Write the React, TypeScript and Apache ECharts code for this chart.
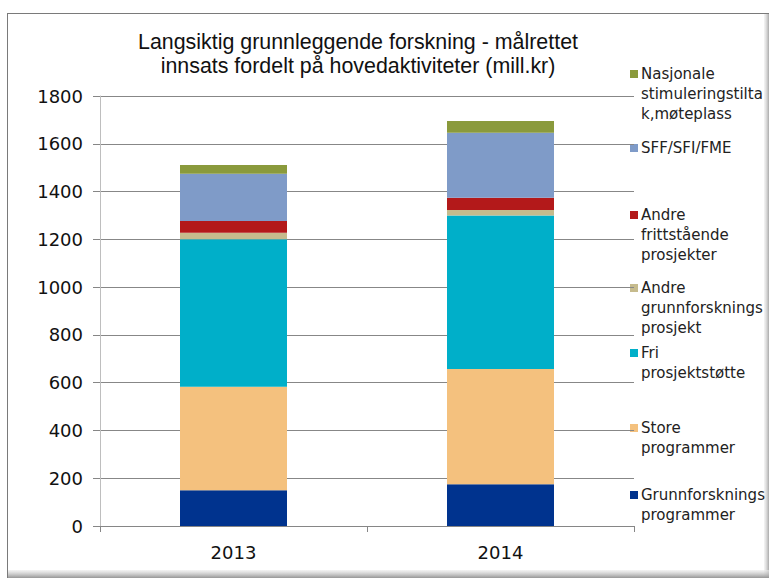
import React, { useEffect, useRef } from "react";
import * as echarts from "echarts";

const categories = ["2013", "2014"];
const seriesNames = [
  "Grunnforsknings programmer",
  "Store programmer",
  "Fri prosjektstøtte",
  "Andre grunnforsknings prosjekt",
  "Andre frittstående prosjekter",
  "SFF/SFI/FME",
  "Nasjonale stimuleringstiltak,møteplass",
];
const legendLabels = [
  "Grunnforsknings\nprogrammer",
  "Store\nprogrammer",
  "Fri\nprosjektstøtte",
  "Andre\ngrunnforsknings\nprosjekt",
  "Andre\nfrittstående\nprosjekter",
  "SFF/SFI/FME",
  "Nasjonale\nstimuleringstilta\nk,møteplass",
];
const grunnforsknings = [150, 175];
const store = [433, 482];
const fri = [617, 643];
const andreGrunn = [28, 23];
const andreFritt = [49, 51];
const sff = [198, 272];
const nasjonale = [36, 49];
const seriesValues = [grunnforsknings, store, fri, andreGrunn, andreFritt, sff, nasjonale];
const colors = ["#00338E", "#F4C17E", "#00AFC9", "#C6BB8D", "#B3191A", "#7F9BC8", "#8A9A3C"];
const yTicks = { min: 0, max: 1800, interval: 200 };
const titleLines = [
  "Langsiktig grunnleggende forskning - målrettet",
  "innsats fordelt på hovedaktiviteter (mill.kr)",
];

// legend marker vertical centers (layout)
const legendY = [495, 428, 353, 288, 215, 148, 74];

export default function App() {
  const ref = useRef<HTMLDivElement>(null);
  useEffect(() => {
    if (!ref.current) return;
    const chart = echarts.init(ref.current, null, { renderer: "svg" });
    const font = "DejaVu Sans, Verdana, sans-serif";
    const legendGraphics: any[] = [];
    seriesNames.forEach((name, i) => {
      legendGraphics.push({
        type: "rect",
        left: 630,
        top: legendY[i] - 4,
        shape: { width: 8, height: 8 },
        style: { fill: colors[i] },
      });
      legendGraphics.push({
        type: "text",
        left: 641,
        top: legendY[i] - 10,
        style: {
          text: legendLabels[i],
          font: `15px ${font}`,
          fill: "#222",
          lineHeight: 20,
        },
      });
    });
    chart.setOption({
      animation: false,
      backgroundColor: "#fff",
      title: titleLines.map((t, i) => ({
        text: t,
        left: 358,
        top: 30 + i * 24.5,
        padding: 0,
        textAlign: "center",
        textStyle: {
          fontFamily: "Liberation Sans, Arial, sans-serif",
          fontSize: 21.4,
          fontWeight: "normal",
          color: "#111",
          lineHeight: 23,
        },
      })),
      grid: { left: 100, right: 135, top: 96, bottom: 52 },
      xAxis: {
        type: "category",
        data: categories,
        axisLine: { lineStyle: { color: "#868686" } },
        axisTick: { show: true, length: 6, lineStyle: { color: "#868686" } },
        axisLabel: { fontFamily: font, fontSize: 18, color: "#111", margin: 17 },
      },
      yAxis: {
        type: "value",
        min: yTicks.min,
        max: yTicks.max,
        interval: yTicks.interval,
        axisLine: { show: true, lineStyle: { color: "#BEBEBE" } },
        axisTick: { show: true, length: 7, lineStyle: { color: "#868686" } },
        axisLabel: {
          fontFamily: font,
          fontSize: 18,
          color: "#111",
          margin: 17,
          formatter: (v: number) => String(v),
        },
        splitLine: { lineStyle: { color: "#878787", width: 1 } },
      },
      series: seriesNames.map((name, i) => ({
        name,
        type: "bar",
        stack: "total",
        barWidth: 107,
        data: seriesValues[i],
        itemStyle: { color: colors[i] },
      })),
      graphic: [
        {
          type: "line",
          shape: { x1: 7, y1: 13.5, x2: 769, y2: 13.5 },
          style: { stroke: "#7a7a7a", lineWidth: 1 },
        },
        {
          type: "line",
          shape: { x1: 7.5, y1: 13, x2: 7.5, y2: 578 },
          style: { stroke: "#7a7a7a", lineWidth: 1 },
        },
        {
          type: "rect",
          shape: { x: 764, y: 14, width: 5, height: 564 },
          style: {
            fill: new echarts.graphic.LinearGradient(0, 0, 1, 0, [
              { offset: 0, color: "rgba(220,220,220,0.3)" },
              { offset: 1, color: "rgba(170,170,170,1)" },
            ]),
          },
        },
        {
          type: "rect",
          shape: { x: 8, y: 570, width: 761, height: 8 },
          style: {
            fill: new echarts.graphic.LinearGradient(0, 0, 0, 1, [
              { offset: 0, color: "rgba(235,235,235,0.6)" },
              { offset: 1, color: "rgba(150,150,150,1)" },
            ]),
          },
        },
        ...legendGraphics,
      ],
    });
    return () => chart.dispose();
  }, []);
  return (
    <div
      ref={ref}
      style={{ position: "absolute", left: 0, top: 0, width: 769, height: 578 }}
    />
  );
}
